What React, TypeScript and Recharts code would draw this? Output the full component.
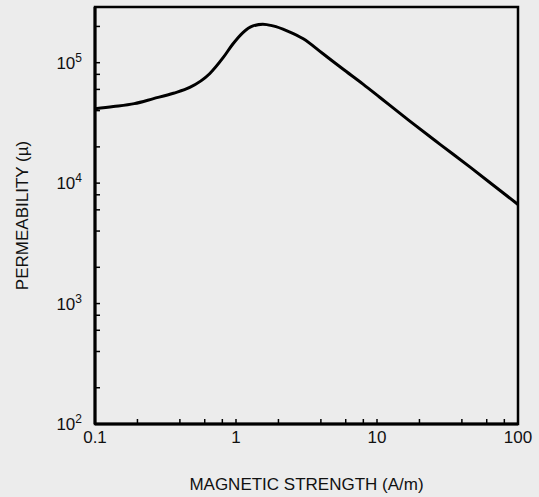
import React from 'react';
import { LineChart, Line, XAxis, YAxis, ReferenceArea } from 'recharts';

// magnetic strength H (A/m) and permeability (µ)
const fieldH = [0.1, 0.135, 0.19, 0.26, 0.36, 0.47, 0.65, 0.81, 0.95, 1.12, 1.32, 1.55, 1.83, 2.3, 3.0, 4.1, 5.7, 8, 10.5, 17, 28, 46, 75, 100];
const permeability = [41500, 43200, 45700, 50300, 55800, 62300, 81000, 110000, 143000, 178000, 202000, 209000, 202000, 184000, 158000, 119700, 89000, 66100, 51400, 32900, 21000, 13500, 8640, 6650];

const xMajor = [0.1, 1, 10, 100];
const xTicks = [0.1, 0.2, 0.4, 0.6, 0.8, 1, 2, 4, 6, 8, 10, 20, 40, 60, 80, 100];
const yMajor = [100, 1000, 10000, 100000];
const yTicks = [100, 200, 400, 600, 800, 1000, 2000, 4000, 6000, 8000, 10000, 20000, 40000, 60000, 80000, 100000, 200000];
const xDomain = [0.1, 100];
const yDomain = [100, 290000];

const data = fieldH.map((h, i) => ({ h, mu: permeability[i] }));

const ink = '#111';
const font = '"Liberation Sans", Arial, sans-serif';

const XTick = (props: any) => {
    const { x, y, payload } = props;
    if (!xMajor.includes(payload.value)) return <g />;
    return (
        <text x={x} y={y} dy="0.71em" textAnchor="middle" fontSize={17} fill={ink} fontFamily={font}>
            {payload.value}
        </text>
    );
};

const YTick = (props: any) => {
    const { x, y, payload } = props;
    if (!yMajor.includes(payload.value)) return <g />;
    const exp = Math.round(Math.log10(payload.value));
    return (
        <text x={x} y={y} dy="0.36em" textAnchor="end" fontSize={17} fill={ink} fontFamily={font}>
            10<tspan fontSize={12} dy={-7}>{exp}</tspan>
        </text>
    );
};

export default function App() {
    return (
        <div style={{ position: 'absolute', left: 0, top: 0, width: 539, height: 497, background: '#ececec' }}>
            <LineChart width={539} height={497} data={data} margin={{ top: 7, right: 21, left: 0, bottom: 0 }}>
                <XAxis
                    dataKey="h"
                    type="number"
                    scale="log"
                    domain={xDomain}
                    ticks={xTicks}
                    interval={0}
                    height={73}
                    tick={<XTick />}
                    tickSize={-5}
                    tickMargin={12}
                    axisLine={{ stroke: '#000', strokeWidth: 3 }}
                    tickLine={{ stroke: '#000', strokeWidth: 1.5 }}
                />
                <YAxis
                    type="number"
                    scale="log"
                    domain={yDomain}
                    allowDataOverflow
                    ticks={yTicks}
                    interval={0}
                    width={95}
                    tick={<YTick />}
                    tickSize={-5}
                    tickMargin={18}
                    axisLine={{ stroke: '#000', strokeWidth: 3 }}
                    tickLine={{ stroke: '#000', strokeWidth: 1.5 }}
                    label={{ value: 'PERMEABILITY (µ)', angle: -90, position: 'insideLeft', offset: 22, fill: ink, fontSize: 17, fontFamily: font, style: { textAnchor: 'middle' } }}
                />
                <ReferenceArea x1={xDomain[0]} x2={xDomain[1]} y1={yDomain[0]} y2={yDomain[1]} fill="none" stroke="#000" strokeWidth={2.5} ifOverflow="visible" />
                <Line type="monotone" dataKey="mu" stroke="#000" strokeWidth={3} dot={false} isAnimationActive={false} />
            </LineChart>
            {/* x title sits outside the chart: an XAxis label hid the axis line here */}
            <div style={{ position: 'absolute', left: 95, top: 475, width: 423, textAlign: 'center', fontSize: 17, lineHeight: '20px', fontFamily: font, color: ink }}>
                MAGNETIC STRENGTH (A/m)
            </div>
        </div>
    );
}
